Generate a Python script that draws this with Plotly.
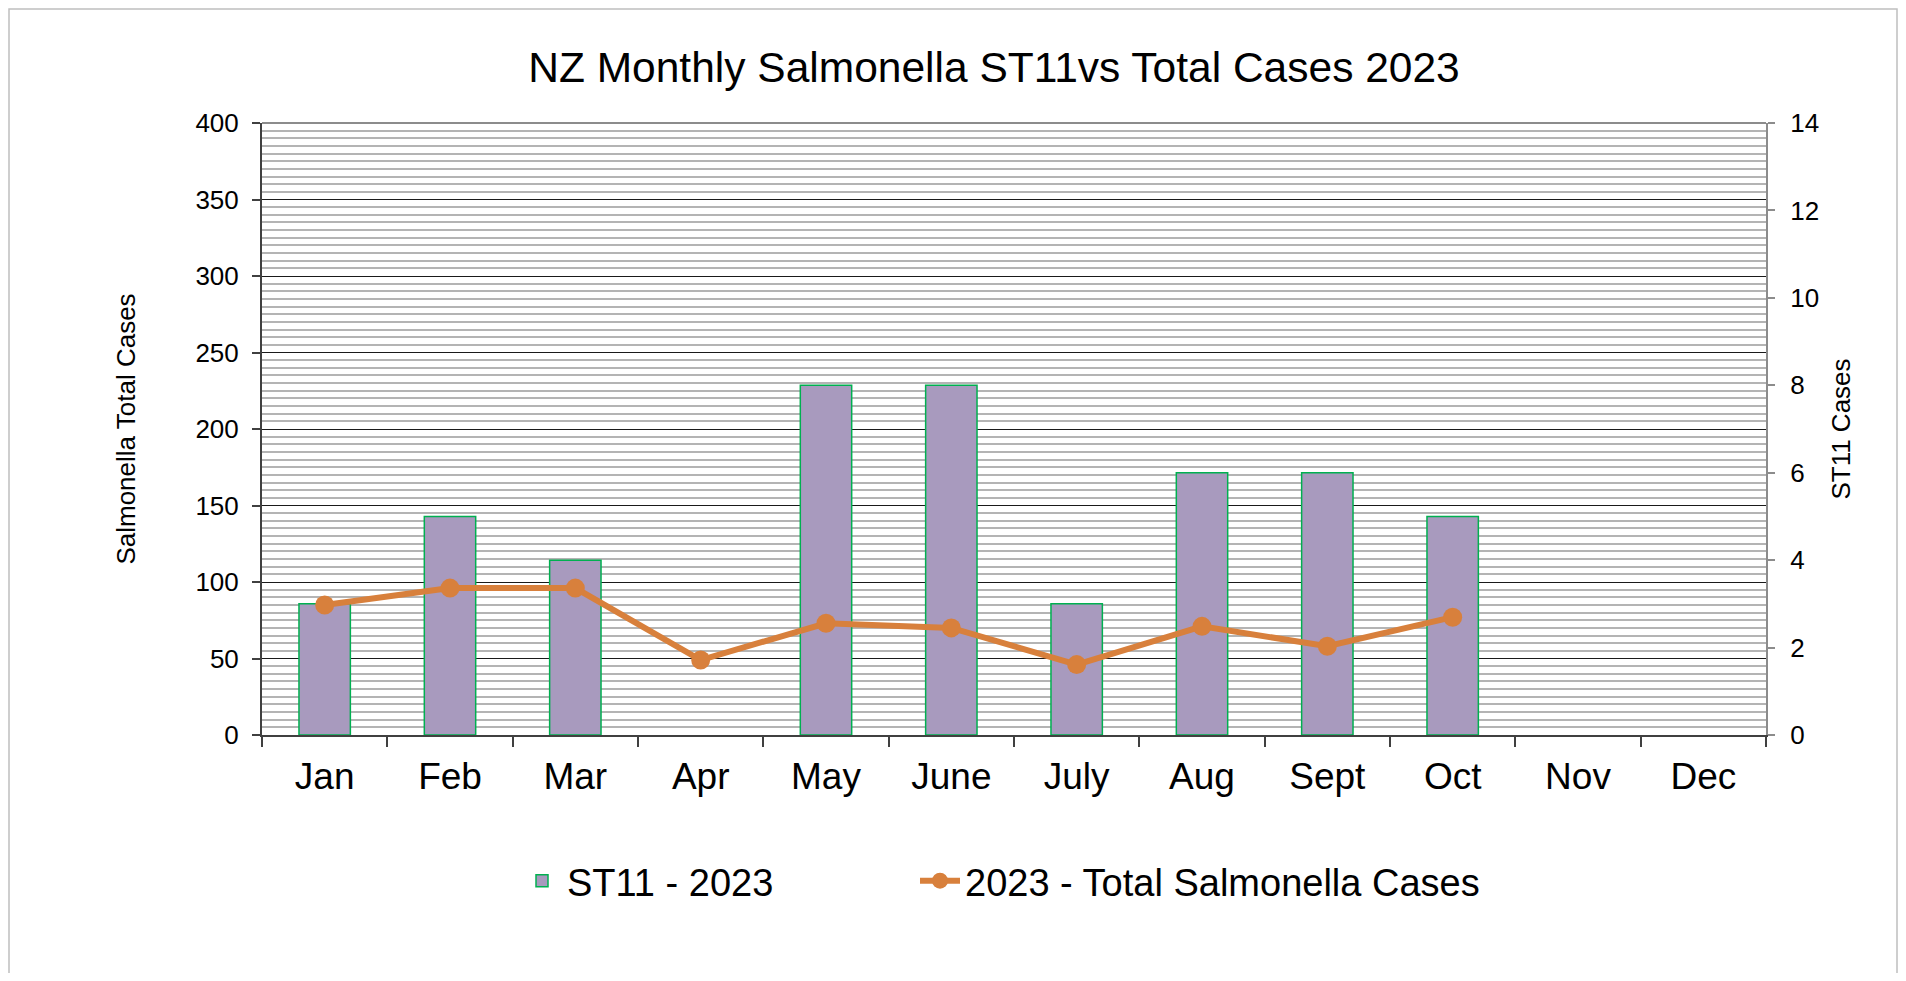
import plotly.graph_objects as go

months = ["Jan", "Feb", "Mar", "Apr", "May", "June", "July", "Aug", "Sept", "Oct", "Nov", "Dec"]
st11_cases = [3, 5, 4, 0, 8, 8, 3, 6, 6, 5, None, None]
total_cases = [85, 96, 96, 49, 73, 70, 46, 71, 58, 77, None, None]

FONT = "Liberation Sans, Arial, sans-serif"
OFF = 8  # default page body margin
W, H = 1906 - 2 * OFF, 981 - 2 * OFF
# plot area in page pixels: x 262..1766, y 123..735
L = 262 - OFF
T = 123 - OFF
R = W - (1766 - OFF)
B = H - (735 - OFF)
PW, PH = W - L - R, H - T - B


def px_x(p):
    return (p - OFF - L) / PW


def px_y(p):
    return (H - B - (p - OFF)) / PH


# zero-height bars are not drawn (no outline) in the reference
bar_values = [v if v else None for v in st11_cases]

fig = go.Figure()

fig.add_trace(go.Bar(
    x=months, y=bar_values, name="ST11 - 2023",
    marker=dict(color="#A89ABE", line=dict(color="#00B050", width=1.5)),
    yaxis="y", legend="legend",
))
fig.add_trace(go.Scatter(
    x=months, y=total_cases, name="2023 - Total Salmonella Cases",
    mode="lines+markers",
    line=dict(color="#D8803C", width=6),
    marker=dict(color="#D8803C", size=19),
    yaxis="y2", legend="legend2",
))

legend_common = dict(
    orientation="h", xanchor="left", yanchor="middle", y=px_y(881),
    font=dict(size=38, family=FONT, color="black"),
    bgcolor="rgba(0,0,0,0)", itemwidth=40,
)

fig.update_layout(
    width=W, height=H,
    autosize=False,
    showlegend=True,
    margin=dict(l=L, r=R, t=T, b=B, pad=0),
    paper_bgcolor="white", plot_bgcolor="white",
    font=dict(family=FONT, color="black"),
    bargap=0.59,
    title=dict(text="NZ Monthly Salmonella ST11vs Total Cases 2023",
               x=(994 - OFF) / W, xanchor="center", xref="container",
               y=1 - (67 - OFF) / H, yanchor="middle", yref="container",
               font=dict(size=42.5, family=FONT, color="black")),
    xaxis=dict(
        type="category", categoryorder="array", categoryarray=months,
        range=[-0.5, 11.5],
        showline=True, linecolor="#404040", linewidth=2,
        ticks="outside", tickson="boundaries", ticklen=10, tickcolor="#404040", tickwidth=1.5,
        tickfont=dict(size=37, family=FONT, color="black"),
        ticklabelstandoff=8,
        showgrid=False, zeroline=False, anchor="y",
    ),
    yaxis=dict(
        side="right", range=[0, 14], dtick=2,
        showline=True, linecolor="#8c8c8c", linewidth=2,
        ticks="outside", ticklen=7, tickcolor="#8c8c8c", tickwidth=1.5,
        tickfont=dict(size=26, family=FONT, color="black"),
        ticklabelstandoff=10,
        showgrid=False, zeroline=False,
        title=dict(text="ST11 Cases", font=dict(size=26, family=FONT, color="black"), standoff=14),
    ),
    yaxis2=dict(
        side="left", overlaying="y", range=[0, 400], dtick=50,
        showline=True, linecolor="#404040", linewidth=2,
        ticks="outside", ticklen=8, tickcolor="#404040", tickwidth=1.5,
        tickfont=dict(size=26, family=FONT, color="black"),
        ticklabelstandoff=8,
        showgrid=True, gridcolor="#1a1a1a", gridwidth=1,
        minor=dict(dtick=5, showgrid=True, gridcolor="#b4b4b4", gridwidth=1.5),
        zeroline=False,
        title=dict(text="Salmonella Total Cases", font=dict(size=26, family=FONT, color="black"), standoff=52),
    ),
    legend=dict(x=px_x(517), **legend_common),
    legend2=dict(x=px_x(915), **legend_common),
    shapes=[
        dict(type="line", xref="paper", yref="paper", x0=0, x1=1, y0=1, y1=1,
             line=dict(color="#8c8c8c", width=2), layer="above"),
        dict(type="rect", xref="paper", yref="paper",
             x0=px_x(OFF + 1), x1=px_x(1897), y0=px_y(OFF + 1), y1=px_y(1000),
             line=dict(color="#bfbfbf", width=1.5), layer="below"),
    ],
)

fig.write_html("out.html")
